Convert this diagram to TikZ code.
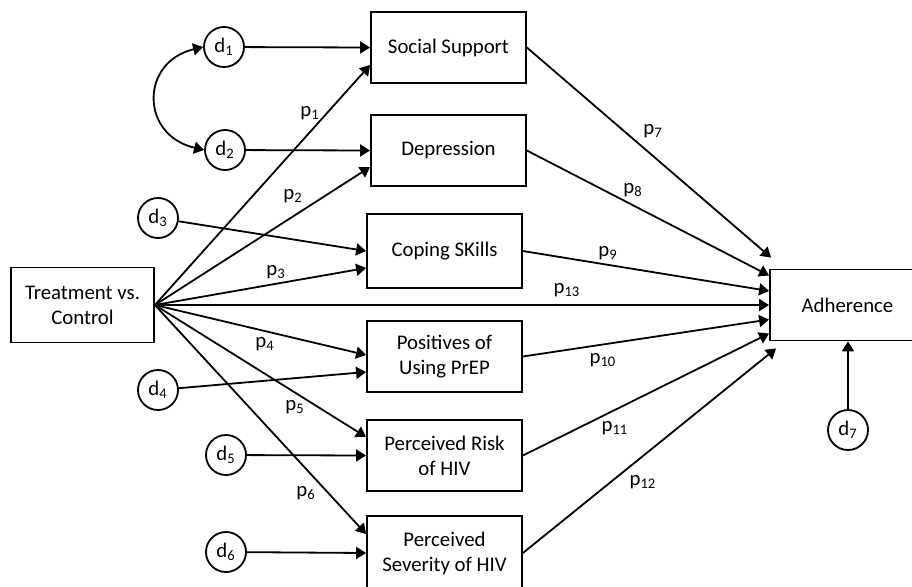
\documentclass[tikz,border=0pt]{standalone}
\usepackage{fontspec}
\setmainfont{Carlito}
\usetikzlibrary{arrows.meta}
\begin{document}
\begin{tikzpicture}[x=0.5pt,y=-0.5pt,
  every node/.style={font=\fontsize{10.4}{12.5}\selectfont},
  var/.style={draw, line width=0.9pt, inner sep=0pt, align=center,
    minimum width=77.5pt, minimum height=35.5pt},
  err/.style={draw, circle, line width=0.9pt, inner sep=0pt, minimum size=20pt},
  tip/.tip={Triangle[length=5pt,width=6pt]},
  effect/.style={line width=0.9pt, -tip},
  covar/.style={line width=0.9pt, tip-tip},
  coef/.style={inner sep=0pt}
]
\useasboundingbox (0,0) rectangle (912,586);

% observed variables
\node[var, minimum width=71.5pt, minimum height=37.5pt] (trt) at (82.5,305) {Treatment vs.\\Control};
\node[var] (ss) at (448.5,47.5) {Social Support};
\node[var] (dep) at (448.5,150.5) {Depression};
\node[var, minimum height=37pt] (cop) at (444.5,251) {Coping SKills};
\node[var] (pos) at (444.5,356.5) {Positives of\\Using PrEP};
\node[var] (risk) at (444.5,455.5) {Perceived Risk\\of HIV};
\node[var, minimum height=37pt] (sev) at (444.5,553) {Perceived\\Severity of HIV};
\node[var] (adh) at (847.5,305) {Adherence};

% disturbances
\node[err] (d1) at (224,47) {d\textsubscript{1}};
\node[err] (d2) at (225,150) {d\textsubscript{2}};
\node[err] (d3) at (158,218) {d\textsubscript{3}};
\node[err] (d4) at (158,390) {d\textsubscript{4}};
\node[err] (d5) at (226,455) {d\textsubscript{5}};
\node[err] (d6) at (226,552) {d\textsubscript{6}};
\node[err] (d7) at (848,430) {d\textsubscript{7}};

% disturbance paths
\draw[effect] (d1) -- (ss.west);
\draw[effect] (d2) -- (dep.west);
\draw[effect] (d3) -- (cop.west);
\draw[effect] (d4) -- ([yshift=-7.75pt]pos.west);
\draw[effect] (d5) -- (risk.west);
\draw[effect] (d6) -- (sev.west);
\draw[effect] (d7) -- (d7 |- adh.south);
\draw[covar] (d1.west) .. controls (140,62) and (140,135) .. (d2.west);

% treatment effects
\draw[effect] (trt.east) -- ([yshift=-8.75pt]ss.west);
\draw[effect] (trt.east) -- ([yshift=-8.25pt]dep.west);
\draw[effect] (trt.east) -- ([yshift=-8.5pt]cop.west);
\draw[effect] (trt.east) -- (adh.west);
\draw[effect] (trt.east) -- ([yshift=0.75pt]pos.west);
\draw[effect] (trt.east) -- ([yshift=9.25pt]risk.west);
\draw[effect] (trt.east) -- ([yshift=9.5pt]sev.west);

% mediator effects on adherence
\draw[effect] (ss.east) -- ([xshift=1pt,yshift=5.5pt]adh.north west);
\draw[effect] (dep.east) -- ([yshift=14.75pt]adh.west);
\draw[effect] (cop.east) -- ([yshift=7pt]adh.west);
\draw[effect] (pos.east) -- ([yshift=-7.25pt]adh.west);
\draw[effect] (risk.east) -- ([yshift=-14.25pt]adh.west);
\draw[effect] (sev.east) -- ([xshift=3.5pt,yshift=-3.5pt]adh.south west);

% path coefficients
\node[coef] (c1) at (310,113) {p\textsubscript{1}};
\node[coef] (c2) at (293,196) {p\textsubscript{2}};
\node[coef] (c3) at (276,272) {p\textsubscript{3}};
\node[coef] (c4) at (265,344) {p\textsubscript{4}};
\node[coef] (c5) at (295,407) {p\textsubscript{5}};
\node[coef] (c6) at (306,493) {p\textsubscript{6}};
\node[coef] (c7) at (653,131) {p\textsubscript{7}};
\node[coef] (c8) at (633,190) {p\textsubscript{8}};
\node[coef] (c9) at (608,253) {p\textsubscript{9}};
\node[coef] (c13) at (567,290) {p\textsubscript{13}};
\node[coef] (c10) at (603,360) {p\textsubscript{10}};
\node[coef] (c11) at (615,428) {p\textsubscript{11}};
\node[coef] (c12) at (643,482) {p\textsubscript{12}};
\end{tikzpicture}
\end{document}
